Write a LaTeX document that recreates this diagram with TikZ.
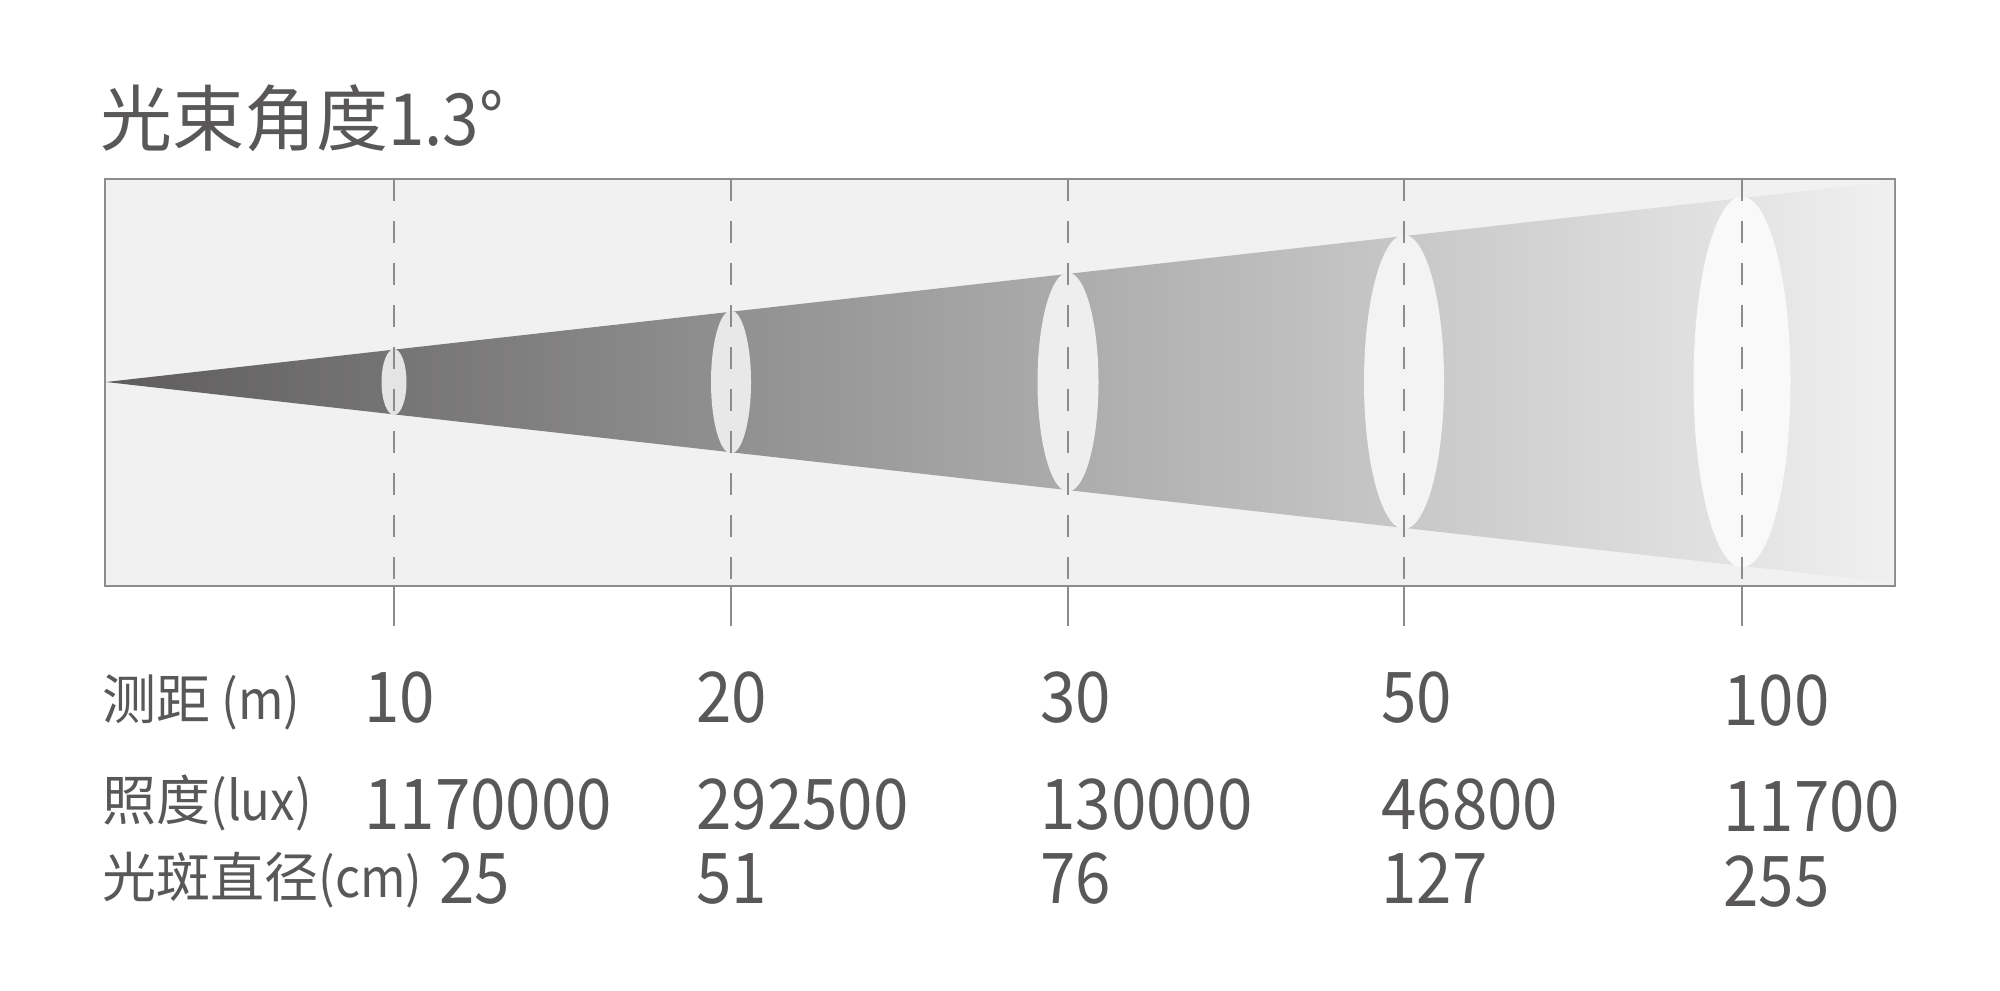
\documentclass[tikz,border=0pt]{standalone}
\usepackage{fontspec}
\setmainfont{Noto Sans CJK SC}
\newfontfamily\numfont[FakeStretch=0.91]{Noto Sans CJK SC}
\definecolor{txt}{HTML}{595757}
\definecolor{frame}{HTML}{8C8C8C}
\definecolor{boxbg}{HTML}{F1F1F1}
\definecolor{beamL}{HTML}{5E5C5D}
\definecolor{beamR}{HTML}{F0F0F0}
\begin{document}
\begin{tikzpicture}[x=0.5pt,y=-0.5pt,
  lbl/.style={anchor=base west, inner sep=0pt, text=txt, font=\fontsize{27}{32}\selectfont},
  num/.style={anchor=base west, inner sep=0pt, text=txt, font=\fontsize{35}{42}\numfont},
  ttl/.style={anchor=base west, inner sep=0pt, text=txt, font=\fontsize{36}{42}\selectfont},
  guide/.style={draw=frame, line width=1pt, dash pattern=on 10.8pt off 10.2pt},
  tick/.style={draw=frame, line width=1pt},
  spot/.style={draw=none}]
\useasboundingbox (0,0) rectangle (2000,990);
% frame
\draw[fill=boxbg, draw=frame, line width=1pt] (105,179) rectangle (1895,586);
% beam
\coordinate (apex) at (106,382);
\coordinate (rt) at (1894,181);
\coordinate (rb) at (1894,583);
\shade[left color=beamL, right color=beamR] (apex) -- (rt) -- (rb) -- cycle;
% spots
\fill[spot, fill={rgb,255:red,228;green,228;blue,228}] (394,382) ellipse [x radius=12.5, y radius=33];
\fill[spot, fill={rgb,255:red,232;green,232;blue,232}] (731,382) ellipse [x radius=20, y radius=71.5];
\fill[spot, fill={rgb,255:red,238;green,238;blue,238}] (1068,382) ellipse [x radius=30.5, y radius=109.5];
\fill[spot, fill={rgb,255:red,243;green,243;blue,243}] (1404,382) ellipse [x radius=40, y radius=147];
\fill[spot, fill={rgb,255:red,249;green,249;blue,249}] (1742,382) ellipse [x radius=48.5, y radius=185.5];
% guides
\foreach \gx/\nm in {394/a,731/b,1068/c,1404/d,1742/e}{
  \coordinate (g\nm top) at (\gx,179);
  \coordinate (g\nm mid) at (\gx,586);
  \coordinate (g\nm bot) at (\gx,626);
  \draw[guide] (g\nm top) -- (g\nm mid);
  \draw[tick] (g\nm mid) -- (g\nm bot);
}
% title
\node[ttl] (title) at (100,145) {光束角度{\numfont 1.3°}};
% row 1
\node[lbl] (l1) at (102,719) {测距{\numfont\ (m)}};
\node[num] (d1) at (364,722) {10};
\node[num] (d2) at (696,722) {20};
\node[num] (d3) at (1040,722) {30};
\node[num] (d4) at (1381,722) {50};
\node[num] (d5) at (1723,725) {100};
% row 2
\node[lbl] (l2) at (102,820) {照度{\numfont (lux)}};
\node[num] (i1) at (364,829) {1170000};
\node[num] (i2) at (696,829) {292500};
\node[num] (i3) at (1040,829) {130000};
\node[num] (i4) at (1381,829) {46800};
\node[num] (i5) at (1723,831) {11700};
% row 3
\node[lbl] (l3) at (102,897) {光斑直径{\numfont (cm)}};
\node[num] (s1) at (439,903) {25};
\node[num] (s2) at (696,903) {51};
\node[num] (s3) at (1040,903) {76};
\node[num] (s4) at (1381,903) {127};
\node[num] (s5) at (1723,906) {255};
\end{tikzpicture}
\end{document}
